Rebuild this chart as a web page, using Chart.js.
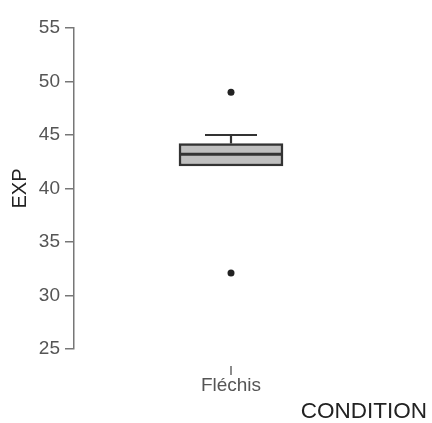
<!DOCTYPE html>
<html>
<head>
<meta charset="utf-8">
<script src="https://cdn.jsdelivr.net/npm/chart.js@4/dist/chart.umd.min.js"></script>
<style>
  html, body { margin: 0; padding: 0; background: #fff; }
  #wrap { width: 432px; height: 423px; }
</style>
</head>
<body>
<div id="wrap"><canvas id="myChart"></canvas></div>
<script>
// box plot values
var categories = ["Fléchis"];
var q1 = [42.1];
var median = [43.2];
var q3 = [44.2];
var whiskerLow = [42.1];
var whiskerHigh = [45];
var outliers = [[49, 32.1]];
var yTicks = [25, 30, 35, 40, 45, 50, 55];

var outlierPoints = [];
outliers.forEach((vals, i) => {
    vals.forEach(v => outlierPoints.push({ x: categories[i], y: v }));
});

// median, whiskers and the x tick marks, placed with the chart's scales
const boxLines = {
    id: "boxLines",
    afterDatasetsDraw(chart) {
        const ctx = chart.ctx;
        const y = chart.scales.y;
        const bars = chart.getDatasetMeta(0).data;
        ctx.save();
        bars.forEach((bar, i) => {
            const half = bar.width / 2;
            ctx.strokeStyle = "#333";
            // whiskers
            ctx.lineWidth = 2.2;
            [[q3[i], whiskerHigh[i]], [q1[i], whiskerLow[i]]].forEach(([from, to]) => {
                if (from === to) return;
                ctx.beginPath();
                ctx.moveTo(bar.x, y.getPixelForValue(from));
                ctx.lineTo(bar.x, y.getPixelForValue(to));
                ctx.moveTo(bar.x - half / 2, y.getPixelForValue(to));
                ctx.lineTo(bar.x + half / 2, y.getPixelForValue(to));
                ctx.stroke();
            });
            // median
            ctx.lineWidth = 3;
            ctx.beginPath();
            ctx.moveTo(bar.x - half, y.getPixelForValue(median[i]));
            ctx.lineTo(bar.x + half, y.getPixelForValue(median[i]));
            ctx.stroke();
            // x tick mark, set off from the axis
            ctx.strokeStyle = "#666";
            ctx.lineWidth = 1.5;
            ctx.beginPath();
            ctx.moveTo(bar.x, chart.chartArea.bottom + 17);
            ctx.lineTo(bar.x, chart.chartArea.bottom + 26);
            ctx.stroke();
        });
        ctx.restore();
    }
};

const data = {
    labels: categories,
    datasets: [
        {
            type: "bar",
            data: categories.map((c, i) => [q1[i], q3[i]]),
            backgroundColor: "#bfbfbf",
            borderColor: "#333",
            borderWidth: 2.5,
            borderSkipped: false,
            barThickness: 104
        },
        {
            type: "line",
            data: outlierPoints,
            showLine: false,
            pointRadius: 3.5,
            pointBackgroundColor: "#222",
            pointBorderColor: "#222",
            pointBorderWidth: 0
        }
    ]
};

const config = {
    type: "bar",
    data: data,
    plugins: [boxLines],
    options: {
        responsive: true,
        maintainAspectRatio: false,
        animation: false,
        layout: { padding: { left: 4, top: 28, right: 5, bottom: 0 } },
        plugins: {
            legend: { display: false },
            tooltip: { enabled: false },
            title: {
                display: true,
                text: "CONDITION",
                position: "bottom",
                align: "end",
                color: "#222",
                font: { family: "Liberation Sans", size: 22.5, weight: "normal", lineHeight: 1 },
                padding: 0
            }
        },
        scales: {
            x: {
                grid: { display: false },
                border: { display: false },
                afterFit: s => { s.height = 51.5; },
                ticks: {
                    color: "#555",
                    padding: 17,
                    font: { family: "Liberation Sans", size: 19 }
                }
            },
            y: {
                min: 25,
                max: 55,
                afterBuildTicks: s => { s.ticks = yTicks.map(v => ({ value: v })); },
                afterFit: s => { s.width = 70; },
                ticks: {
                    color: "#555",
                    padding: 5,
                    font: { family: "Liberation Sans", size: 19 }
                },
                grid: { drawOnChartArea: false, drawTicks: true, tickLength: 9, color: "#777", lineWidth: 1.5 },
                border: { color: "#777", width: 1.5 },
                title: {
                    display: true,
                    text: "EXP",
                    color: "#222",
                    font: { family: "Liberation Sans", size: 20 }
                }
            },
            spacer: {
                position: "right",
                grid: { display: false },
                border: { display: false },
                ticks: { display: false },
                afterFit: s => { s.width = 39; }
            }
        }
    }
};
const myChart = new Chart(document.getElementById("myChart"), config);
</script>
</body>
</html>
